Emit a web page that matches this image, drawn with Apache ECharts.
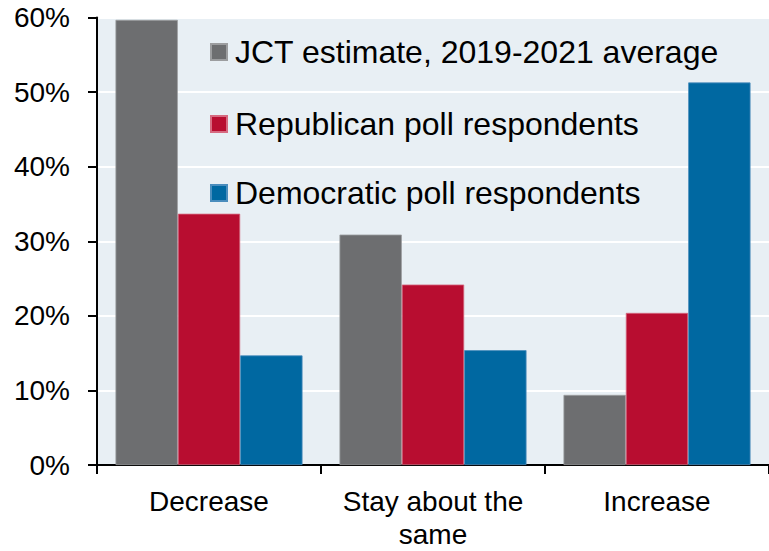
<!DOCTYPE html>
<html>
<head>
<meta charset="utf-8">
<script src="https://cdn.jsdelivr.net/npm/echarts@6/dist/echarts.min.js"></script>
<style>
html,body{margin:0;padding:0;background:#fff;}
#chart{width:769px;height:551px;}
</style>
</head>
<body>
<div id="chart"></div>
<script>
var categories = ['Decrease', 'Stay about the\nsame', 'Increase'];
var seriesNames = ['JCT estimate, 2019-2021 average', 'Republican poll respondents', 'Democratic poll respondents'];
var jctValues = [59.7, 30.9, 9.4];
var republicanValues = [33.7, 24.2, 20.4];
var democraticValues = [14.7, 15.4, 51.3];
var seriesColors = ['#6d6e70', '#b80d30', '#0068a1'];
var seriesBorders = ['#9c9d9f', '#d66a80', '#4a8dbd'];
var yTicks = [0, 10, 20, 30, 40, 50, 60];

var chart = echarts.init(document.getElementById('chart'), null, {renderer: 'svg'});
var font = 'Liberation Sans, Arial, sans-serif';
var values = [jctValues, republicanValues, democraticValues];
var legendTops = [31, 103, 172];

var option = {
  animation: false,
  backgroundColor: '#ffffff',
  textStyle: {fontFamily: font},
  grid: {left: 97, right: -6, top: 17.6, bottom: 81, show: true, backgroundColor: '#e8eff4', borderWidth: 0},
  legend: seriesNames.map(function (n, i) {
    return {
      data: [n], left: 205, top: legendTops[i], itemWidth: 16, itemHeight: 16, itemGap: 0,
      icon: 'rect', selectedMode: false,
      textStyle: {fontSize: 32, color: '#000', fontFamily: font, padding: [0, 0, 0, 3]}
    };
  }),
  xAxis: {
    type: 'category', data: categories,
    axisLine: {lineStyle: {color: '#000', width: 2}},
    axisTick: {show: true, interval: 0, length: 9, lineStyle: {color: '#000', width: 2}, alignWithLabel: false},
    axisLabel: {interval: 0, fontSize: 28, color: '#000', margin: 20, lineHeight: 33, fontFamily: font},
    splitLine: {show: false}
  },
  yAxis: {
    type: 'value', min: 0, max: 60, interval: 10,
    axisLine: {show: true, lineStyle: {color: '#000', width: 2}},
    axisTick: {show: true, length: 9, lineStyle: {color: '#000', width: 2}},
    axisLabel: {fontSize: 28, color: '#000', margin: 27, fontFamily: font, formatter: function (v) { return yTicks.indexOf(v) >= 0 ? v + '%' : ''; }},
    splitLine: {show: true, lineStyle: {color: '#ffffff', width: 2}}
  },
  series: seriesNames.map(function (n, i) {
    return {
      name: n, type: 'bar', data: values[i], barGap: '0%', barCategoryGap: '16.5%',
      itemStyle: {color: seriesColors[i], borderColor: seriesBorders[i], borderWidth: 0.8}
    };
  })
};
chart.setOption(option);
</script>
</body>
</html>
